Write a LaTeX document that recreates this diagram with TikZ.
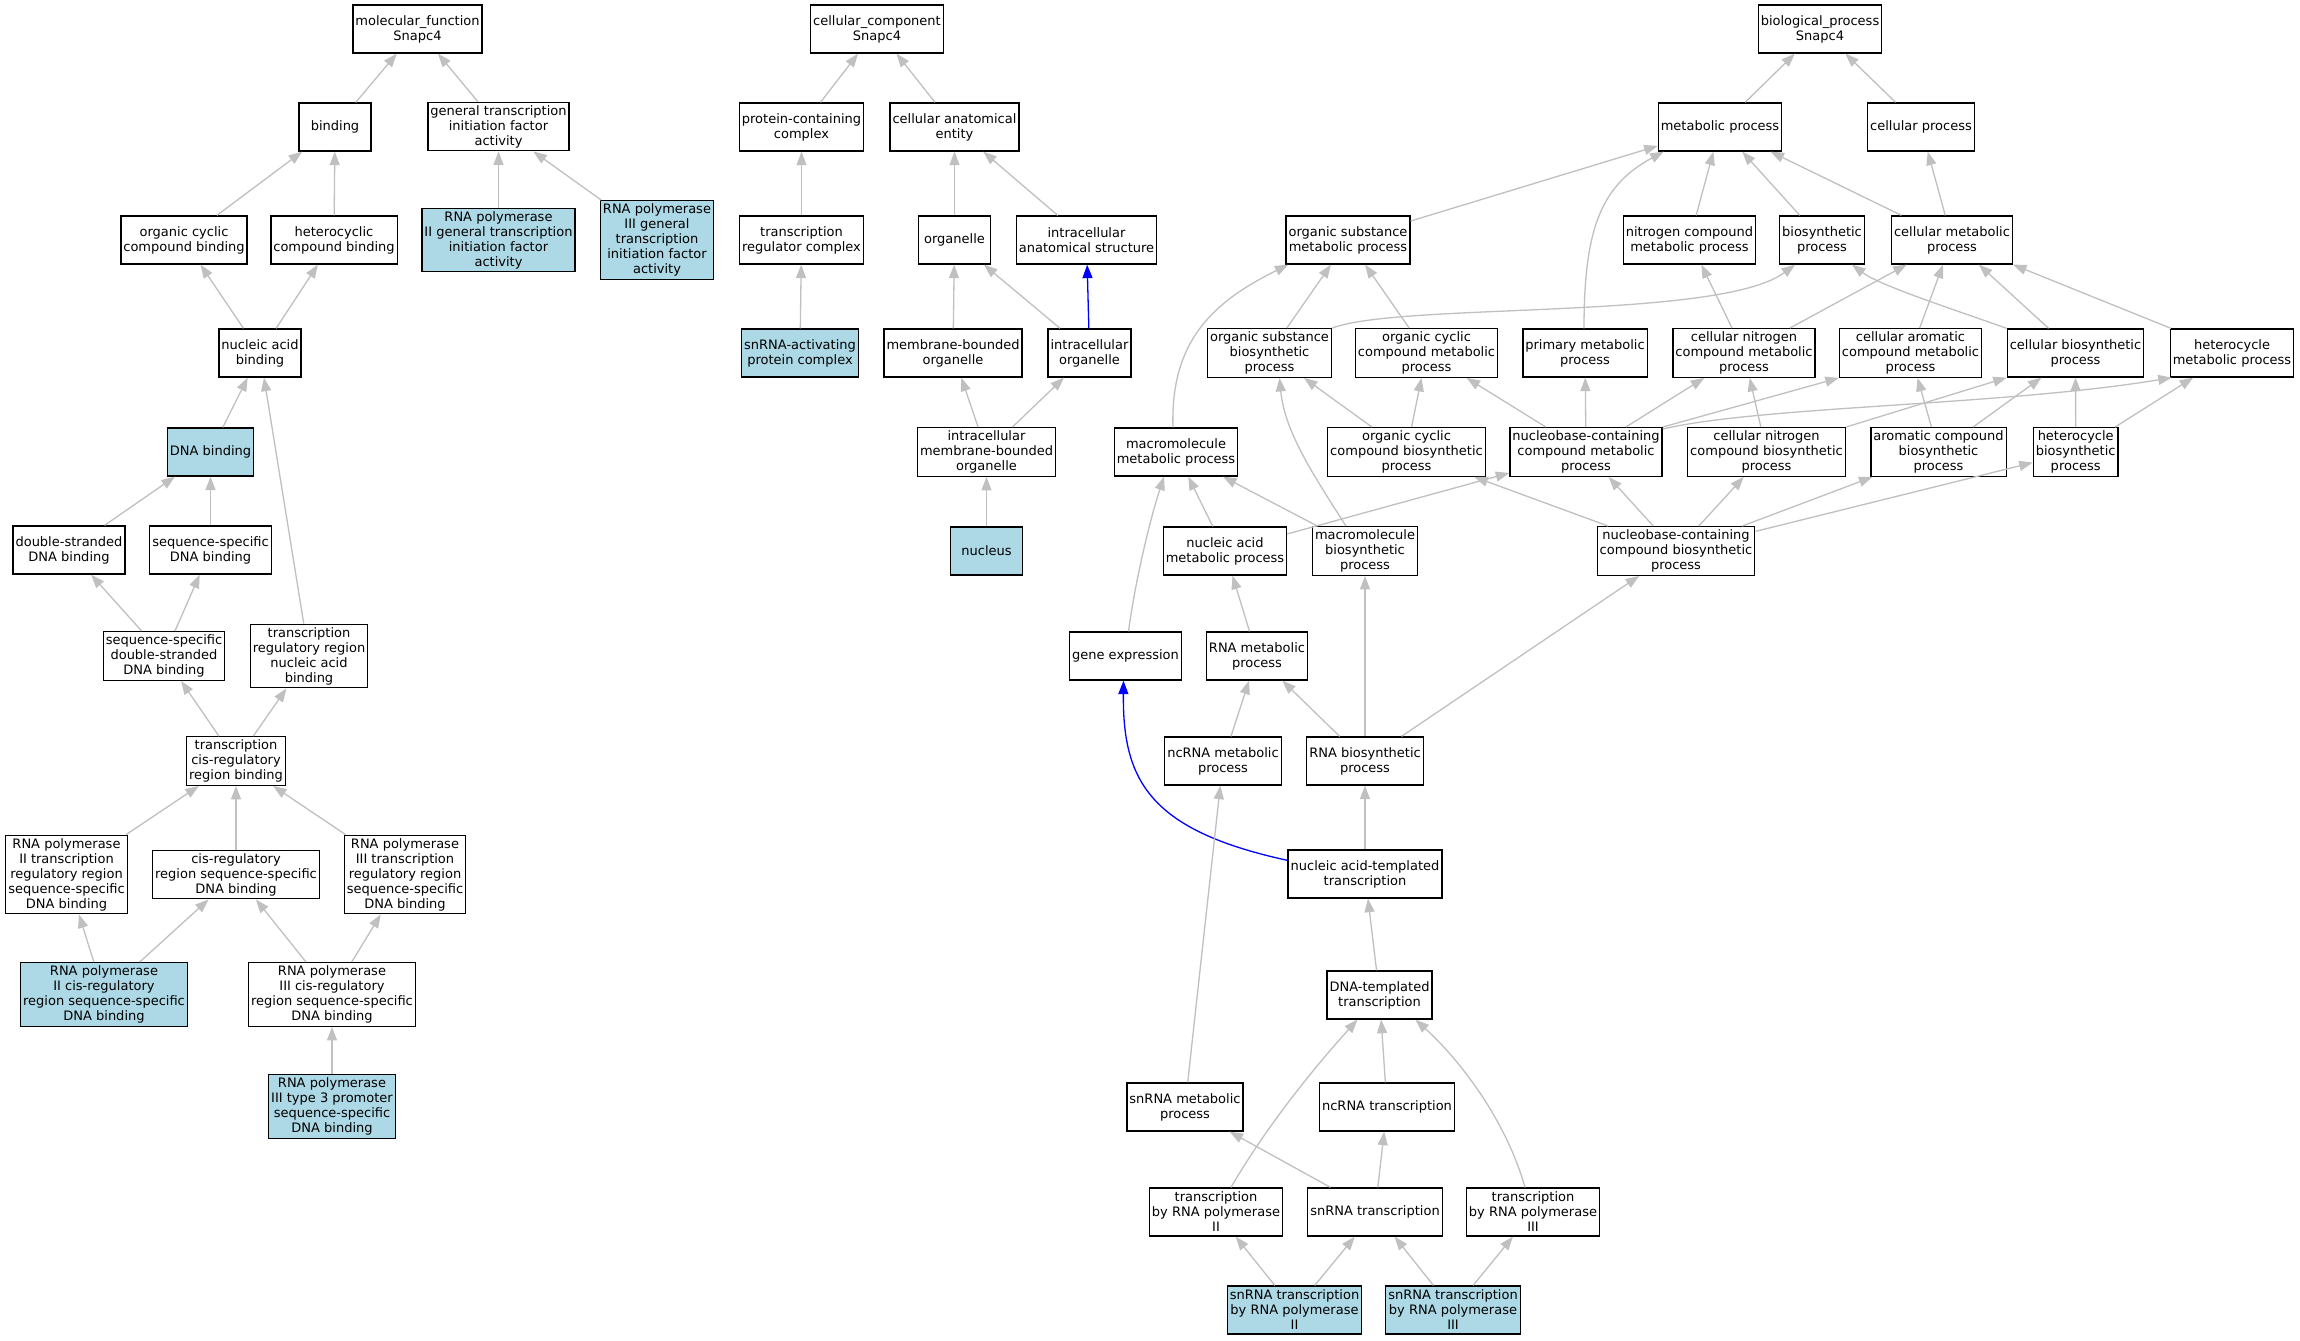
\documentclass[tikz,border=0pt]{standalone}
\usepackage{fontspec}
\setmainfont{DejaVu Sans}
\usetikzlibrary{arrows.meta}
\definecolor{lblue}{RGB}{173,216,230}
\definecolor{egray}{RGB}{192,192,192}
\begin{document}
\begin{tikzpicture}[x=1pt,y=-1pt,
 term/.style={draw=black, line width=1.3pt, rectangle, align=center, minimum width=72pt, minimum height=48pt, inner xsep=2.5pt, inner ysep=3pt, font=\fontsize{13}{15}\selectfont, fill=white},
 hit/.style={term, fill=lblue},
 edge/.style={draw=egray, line width=1.3pt, -{Triangle[length=13.5pt,width=10pt]}},
 bedge/.style={edge, draw=blue}]
\fill[white] (0,0) rectangle (2300,1341);
\useasboundingbox (0,0) rectangle (2300,1341);
% ---------- molecular function ----------
\node[term] (mf) at (417.5,29) {molecular\_function\\Snapc4};
\node[term] (binding) at (335,127) {binding};
\node[term] (gtifa) at (498.5,126.5) {general transcription\\initiation factor\\activity};
\node[term] (occb) at (184,240) {organic cyclic\\compound binding};
\node[term] (hcb) at (334,240) {heterocyclic\\compound binding};
\node[hit] (r2g) at (498.5,240) {RNA polymerase\\II general transcription\\initiation factor\\activity};
\node[hit] (r3g) at (657,240) {RNA polymerase\\III general\\transcription\\initiation factor\\activity};
\node[term] (nab) at (260,353) {nucleic acid\\binding};
\node[hit] (dnab) at (210.5,452) {DNA binding};
\node[term] (dsdna) at (69,550) {double-stranded\\DNA binding};
\node[term] (ssdna) at (210.5,550) {sequence-specific\\DNA binding};
\node[term] (ssds) at (164,656) {sequence-specific\\double-stranded\\DNA binding};
\node[term] (trrnab) at (309,656) {transcription\\regulatory region\\nucleic acid\\binding};
\node[term] (tcrrb) at (236,761) {transcription\\cis-regulatory\\region binding};
\node[term] (r2trr) at (66.5,874.5) {RNA polymerase\\II transcription\\regulatory region\\sequence-specific\\DNA binding};
\node[term] (crss) at (236,874.5) {cis-regulatory\\region sequence-specific\\DNA binding};
\node[term] (r3trr) at (405,874.5) {RNA polymerase\\III transcription\\regulatory region\\sequence-specific\\DNA binding};
\node[hit] (r2crs) at (104,994.5) {RNA polymerase\\II cis-regulatory\\region sequence-specific\\DNA binding};
\node[term] (r3crs) at (332,994.5) {RNA polymerase\\III cis-regulatory\\region sequence-specific\\DNA binding};
\node[hit] (r3t3p) at (332,1106.5) {RNA polymerase\\III type 3 promoter\\sequence-specific\\DNA binding};
% ---------- cellular component ----------
\node[term] (cc) at (877,29) {cellular\_component\\Snapc4};
\node[term] (pcc) at (801.5,127) {protein-containing\\complex};
\node[term] (cae) at (954.5,127) {cellular anatomical\\entity};
\node[term] (trc) at (801.5,240) {transcription\\regulator complex};
\node[term] (org) at (954.5,240) {organelle};
\node[term] (ias) at (1086.5,240) {intracellular\\anatomical structure};
\node[hit] (snapc) at (800,353) {snRNA-activating\\protein complex};
\node[term] (mbo) at (953,353) {membrane-bounded\\organelle};
\node[term] (io) at (1089.5,353) {intracellular\\organelle};
\node[term] (imbo) at (986.5,452) {intracellular\\membrane-bounded\\organelle};
\node[hit] (nucleus) at (986.5,551) {nucleus};
% ---------- biological process ----------
\node[term] (bp) at (1820,29) {biological\_process\\Snapc4};
\node[term] (mp) at (1720,127) {metabolic process};
\node[term] (cp) at (1921,127) {cellular process};
\node[term] (osmp) at (1348,240) {organic substance\\metabolic process};
\node[term] (ncmp) at (1689.5,240) {nitrogen compound\\metabolic process};
\node[term] (bsp) at (1822,240) {biosynthetic\\process};
\node[term] (cmp) at (1952,240) {cellular metabolic\\process};
\node[term] (osbp) at (1269.5,353) {organic substance\\biosynthetic\\process};
\node[term] (occmp) at (1426.5,353) {organic cyclic\\compound metabolic\\process};
\node[term] (pmp) at (1585,353) {primary metabolic\\process};
\node[term] (cnmp) at (1744,353) {cellular nitrogen\\compound metabolic\\process};
\node[term] (camp) at (1910.5,353) {cellular aromatic\\compound metabolic\\process};
\node[term] (cbp) at (2075.5,353) {cellular biosynthetic\\process};
\node[term] (hmp) at (2232,353) {heterocycle\\metabolic process};
\node[term] (mmp) at (1176,452) {macromolecule\\metabolic process};
\node[term] (occbp) at (1406.5,452) {organic cyclic\\compound biosynthetic\\process};
\node[term] (nccmp) at (1586,452) {nucleobase-containing\\compound metabolic\\process};
\node[term] (cncbp) at (1766.5,452) {cellular nitrogen\\compound biosynthetic\\process};
\node[term] (acbp) at (1938.5,452) {aromatic compound\\biosynthetic\\process};
\node[term] (hbp) at (2075.7,452) {heterocycle\\biosynthetic\\process};
\node[term] (namp) at (1225,551) {nucleic acid\\metabolic process};
\node[term] (mbp) at (1365,551) {macromolecule\\biosynthetic\\process};
\node[term] (ncbp) at (1676,551) {nucleobase-containing\\compound biosynthetic\\process};
\node[term] (ge) at (1125.5,656) {gene expression};
\node[term] (rmp) at (1257,656) {RNA metabolic\\process};
\node[term] (ncrmp) at (1223,761) {ncRNA metabolic\\process};
\node[term] (rbp) at (1365,761) {RNA biosynthetic\\process};
\node[term] (natt) at (1365,874) {nucleic acid-templated\\transcription};
\node[term] (dtt) at (1379.5,995) {DNA-templated\\transcription};
\node[term] (snmp) at (1185,1107) {snRNA metabolic\\process};
\node[term] (nctx) at (1387,1107) {ncRNA transcription};
\node[term] (tx2) at (1216,1212) {transcription\\by RNA polymerase\\II};
\node[term] (sntx) at (1375,1212) {snRNA transcription};
\node[term] (tx3) at (1533,1212) {transcription\\by RNA polymerase\\III};
\node[hit] (sn2) at (1294.5,1310) {snRNA transcription\\by RNA polymerase\\II};
\node[hit] (sn3) at (1453,1310) {snRNA transcription\\by RNA polymerase\\III};
% ---------- MF edges ----------
\draw[edge] (binding) -- (mf);
\draw[edge] (gtifa) -- (mf);
\draw[edge] (occb) -- (binding);
\draw[edge] (hcb) -- (binding);
\draw[edge] (r2g) -- (gtifa);
\draw[edge] (r3g) -- (gtifa);
\draw[edge] (nab) -- (occb);
\draw[edge] (nab) -- (hcb);
\draw[edge] (dnab) -- (nab);
\draw[edge] (trrnab) -- (nab);
\draw[edge] (dsdna) -- (dnab);
\draw[edge] (ssdna) -- (dnab);
\draw[edge] (ssds) -- (dsdna);
\draw[edge] (ssds) -- (ssdna);
\draw[edge] (tcrrb) -- (ssds);
\draw[edge] (tcrrb) -- (trrnab);
\draw[edge] (r2trr) -- (tcrrb);
\draw[edge] (crss) -- (tcrrb);
\draw[edge] (r3trr) -- (tcrrb);
\draw[edge] (r2crs) -- (r2trr);
\draw[edge] (r2crs) -- (crss);
\draw[edge] (r3crs) -- (crss);
\draw[edge] (r3crs) -- (r3trr);
\draw[edge] (r3t3p) -- (r3crs);
% ---------- CC edges ----------
\draw[edge] (pcc) -- (cc);
\draw[edge] (cae) -- (cc);
\draw[edge] (trc) -- (pcc);
\draw[edge] (org) -- (cae);
\draw[edge] (ias) -- (cae);
\draw[edge] (snapc) -- (trc);
\draw[edge] (mbo) -- (org);
\draw[edge] (io) -- (org);
\draw[bedge] (io) -- (ias);
\draw[edge] (imbo) -- (mbo);
\draw[edge] (imbo) -- (io);
\draw[edge] (nucleus) -- (imbo);
% ---------- BP edges ----------
\draw[edge] (mp) -- (bp);
\draw[edge] (cp) -- (bp);
\draw[edge] (osmp) -- (mp);
\draw[edge] ([xshift=-1pt]pmp.north) .. controls +(0,-99) and +(-63,34) .. ([xshift=6pt]mp.south west);
\draw[edge] (ncmp) -- (mp);
\draw[edge] (bsp) -- (mp);
\draw[edge] (cmp) -- (mp);
\draw[edge] (cmp) -- (cp);
\draw[edge] (osbp) -- (osmp);
\draw[edge] (occmp) -- (osmp);
\draw[edge] ([xshift=-3pt]mmp.north) .. controls +(-3,-88) and +(-73,36) .. ([xshift=3pt]osmp.south west);
\draw[edge] (osbp.north east) .. controls +(69,-26) and +(-75,56) .. ([xshift=-27pt]bsp.south);
\draw[edge] (cbp.north west) .. controls +(-56,-20) and +(28,21) .. ([xshift=30pt]bsp.south);
\draw[edge] (cnmp) -- (ncmp);
\draw[edge] (cnmp) -- (cmp);
\draw[edge] (camp) -- (cmp);
\draw[edge] (cbp) -- (cmp);
\draw[edge] (hmp) -- (cmp);
\draw[edge] (occbp) -- (osbp);
\draw[edge] (occbp) -- (occmp);
\draw[edge] (nccmp) -- (occmp);
\draw[edge] (nccmp) -- (pmp);
\draw[edge] (nccmp) -- (cnmp);
\draw[edge] (nccmp.north east) -- (camp.south west);
\draw[edge] ([yshift=-2pt]nccmp.north east) .. controls +(97,-23) and +(-169,28) .. ([xshift=2pt]hmp.south west);
\draw[edge] (cncbp) -- (cnmp);
\draw[edge] (cncbp.north east) -- (cbp.south west);
\draw[edge] (acbp) -- (camp);
\draw[edge] (acbp) -- (cbp);
\draw[edge] (hbp) -- (cbp);
\draw[edge] (hbp) -- (hmp);
\draw[edge] ([xshift=-19pt]mbp.north) .. controls +(-36,-56) and +(5,52) .. ([xshift=10pt]osbp.south);
\draw[edge] (mbp) -- (mmp);
\draw[edge] (namp) -- (mmp);
\draw[edge] (namp) -- (nccmp);
\draw[edge] (ncbp) -- (occbp);
\draw[edge] (ncbp) -- (nccmp);
\draw[edge] (ncbp) -- (cncbp);
\draw[edge] (ncbp) -- (acbp);
\draw[edge] (ncbp) -- (hbp);
\draw[edge] ([xshift=3pt]ge.north) .. controls +(7,-52) and +(-14,43) .. ([xshift=-12pt]mmp.south);
\draw[edge] (rmp) -- (namp);
\draw[edge] (ncrmp) -- (rmp);
\draw[edge] (rbp) -- (rmp);
\draw[edge] (rbp) -- (mbp);
\draw[edge] (rbp) -- (ncbp);
\draw[edge] (natt) -- (rbp);
\draw[bedge] ([yshift=-11pt]natt.north west) .. controls +(-138,-30) and +(-1,100) .. ([xshift=-2pt]ge.south);
\draw[edge] (dtt) -- (natt);
\draw[edge] (snmp) -- (ncrmp);
\draw[edge] (nctx) -- (dtt);
\draw[edge] ([xshift=15pt]tx2.north) .. controls +(39,-67) and +(-37,41) .. ([xshift=-22pt]dtt.south);
\draw[edge] ([xshift=-8pt]tx3.north) .. controls +(-19,-67) and +(45,41) .. ([xshift=36pt]dtt.south);
\draw[edge] (sntx) -- (snmp);
\draw[edge] (sntx) -- (nctx);
\draw[edge] (sn2) -- (tx2);
\draw[edge] (sn2) -- (sntx);
\draw[edge] (sn3) -- (sntx);
\draw[edge] (sn3) -- (tx3);
\end{tikzpicture}
\end{document}
